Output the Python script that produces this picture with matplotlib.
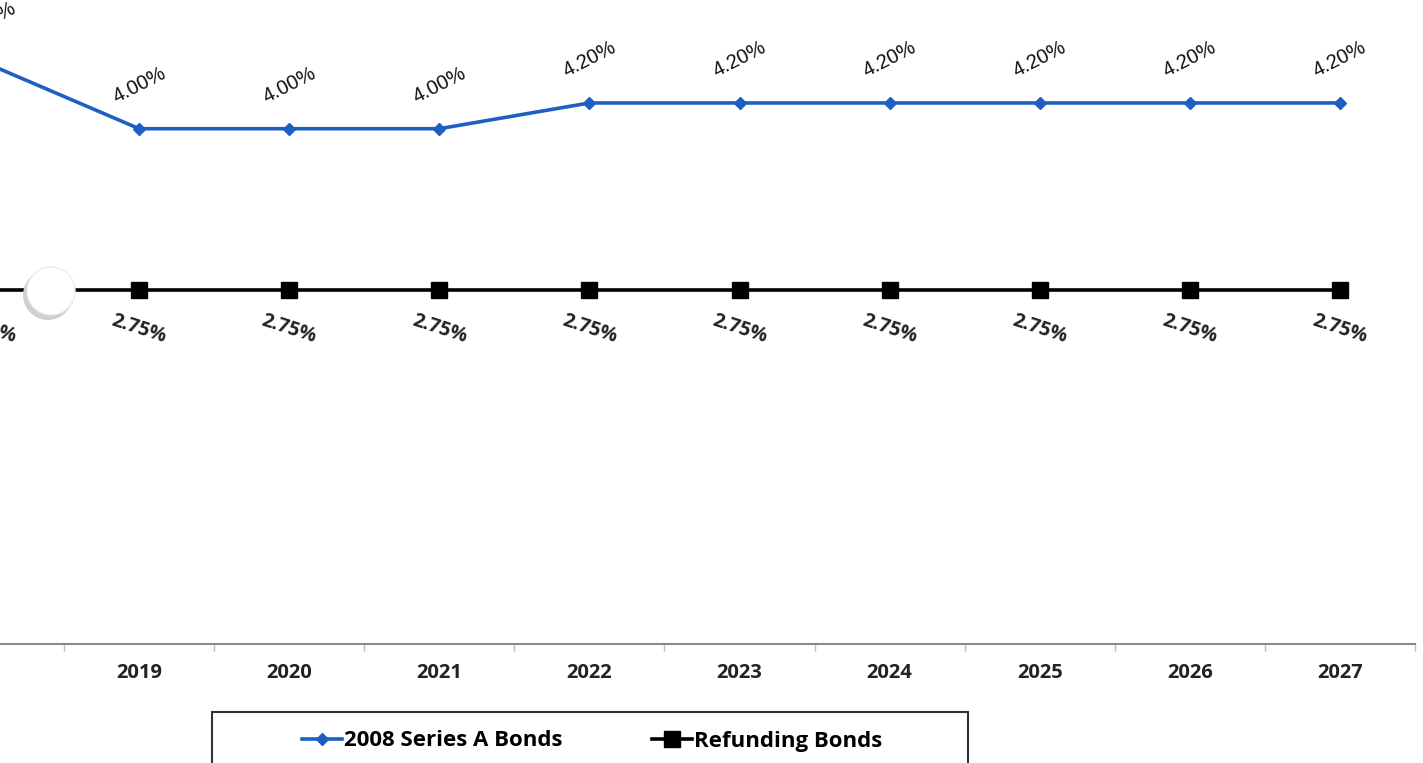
import numpy as np
import matplotlib.pyplot as plt
from matplotlib.patches import Rectangle, Circle
from matplotlib.transforms import IdentityTransform

years = ['2018', '2019', '2020', '2021', '2022', '2023', '2024', '2025', '2026', '2027']
series_a = [4.50, 4.00, 4.00, 4.00, 4.20, 4.20, 4.20, 4.20, 4.20, 4.20]
refunding = [2.75, 2.75, 2.75, 2.75, 2.75, 2.75, 2.75, 2.75, 2.75, 2.75]

blue = '#1F5FC4'
x = np.arange(len(years))

fig = plt.figure(figsize=(14.23, 7.63), dpi=100)
ax = fig.add_axes([0, (763 - 643.5) / 763, 1415 / 1423, 643.5 / 763])

l1, = ax.plot(x, series_a, color=blue, lw=2.6, marker='D', ms=6, label='2008 Series A Bonds', zorder=3)
l2, = ax.plot(x, refunding, color='black', lw=2.6, marker='s', ms=11, label='Refunding Bonds', zorder=3)

for xi, v in zip(x, series_a):
    ax.annotate('%.2f%%' % v, (xi, v), xytext=(0, 44), textcoords='offset pixels',
                ha='center', va='center', rotation=27, fontsize=14.5,
                family='Liberation Sans', color='#111111', annotation_clip=False)
for xi, v in zip(x, refunding):
    ax.annotate('%.2f%%' % v, (xi, v), xytext=(0, -39), textcoords='offset pixels',
                ha='center', va='center', rotation=-18, fontsize=14, fontweight='bold',
                family='Open Sans', color='#222222', annotation_clip=False)

ax.set_xticks(x)
ax.set_xticklabels(years, fontsize=14.5, fontweight='bold', family='Open Sans', color='#222222')
ax.tick_params(axis='x', which='major', length=0, pad=14)
ax.set_xticks(x + 0.5, minor=True)
ax.tick_params(axis='x', which='minor', length=5, color='#bbbbbb', width=1)
ax.set_xlim(0.073, 9.5)
ax.set_ylim(0, 5.0)
for s in ['top', 'right', 'left']:
    ax.spines[s].set_visible(False)
ax.spines['bottom'].set_color('#8a8a8a')
ax.spines['bottom'].set_linewidth(1.5)
ax.set_yticks([])
ax.patch.set_alpha(0)

# scan artefact (white ball) over the refunding line
fig.add_artist(Circle((48, 763 - 295), 25, transform=IdentityTransform(),
                      facecolor='#cfcfcf', edgecolor='none', zorder=10))
fig.add_artist(Circle((51, 763 - 291), 24, transform=IdentityTransform(),
                      facecolor='white', edgecolor='#ececec', lw=1, zorder=11))

fig.add_artist(Rectangle((212 / 1423, -0.05), 756 / 1423, 0.05 + (763 - 712) / 763,
                         transform=fig.transFigure, facecolor='white', edgecolor='#333333', lw=1.5))
fig.legend(handles=[l1, l2], ncol=2, loc='center', bbox_to_anchor=(592 / 1423, (763 - 741) / 763),
           frameon=False, handlelength=1.8, columnspacing=4.0, handletextpad=0.1,
           prop={'family': 'Open Sans', 'weight': 'bold', 'size': 16})

fig.savefig('out.png', dpi=100)
